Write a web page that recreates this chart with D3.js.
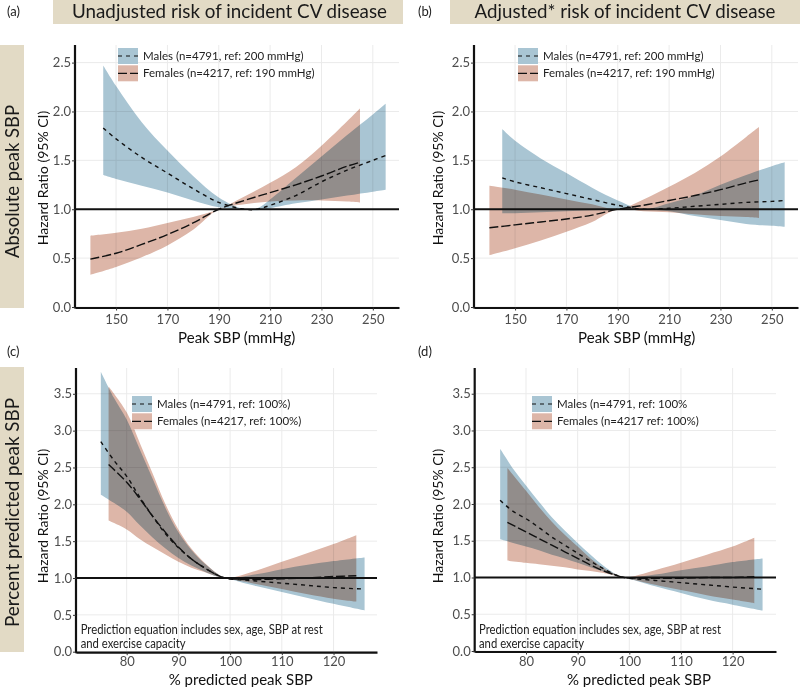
<!DOCTYPE html>
<html><head><meta charset="utf-8">
<script src="https://cdn.jsdelivr.net/npm/d3@7"></script>
<style>
body{margin:0;background:#fff;}
svg{display:block;font-family:Lato,"Open Sans",sans-serif;}
.band{mix-blend-mode:multiply;}
</style></head>
<body><svg id="chart" width="800" height="687"></svg>
<script>
// ---------- data ----------
const xTicksSBP = [150,170,190,210,230,250];
const xTicksPct = [80,90,100,110,120];
const yTicksTop = [0,0.5,1,1.5,2,2.5];
const yTicksBottom = [0,0.5,1,1.5,2,2.5,3,3.5];
const yTickLabelsTop = ["0.0","0.5","1.0","1.5","2.0","2.5"];
const yTickLabelsBottom = ["0.0","0.5","1.0","1.5","2.0","2.5","3.0","3.5"];

// rows: [x, HR, lower 95% CI, upper 95% CI]
const unadjMales = [[145,1.83,1.35,2.47],[150,1.72,1.31,2.26],[160,1.53,1.24,1.89],[170,1.37,1.17,1.60],[180,1.21,1.09,1.34],[190,1.07,1.02,1.12],[200,1.00,1.00,1.00],[205,1.00,0.99,1.01],[210,1.04,1.01,1.10],[220,1.14,1.06,1.32],[230,1.28,1.10,1.54],[240,1.40,1.14,1.76],[250,1.50,1.18,1.97],[255,1.55,1.20,2.08]];
const unadjFemales = [[140,0.49,0.33,0.73],[150,0.55,0.41,0.76],[160,0.64,0.51,0.80],[170,0.74,0.63,0.86],[180,0.86,0.79,0.92],[190,1.00,1.00,1.00],[200,1.09,1.05,1.13],[210,1.17,1.08,1.27],[220,1.25,1.09,1.43],[230,1.34,1.09,1.65],[240,1.44,1.08,1.90],[245,1.48,1.07,2.03]];
const adjMales = [[145,1.32,0.96,1.82],[150,1.28,0.96,1.70],[160,1.22,0.97,1.52],[170,1.16,0.98,1.37],[180,1.10,0.99,1.22],[190,1.04,1.00,1.09],[200,1.00,1.00,1.00],[210,1.01,0.98,1.06],[220,1.03,0.93,1.14],[230,1.05,0.89,1.25],[240,1.07,0.85,1.35],[250,1.08,0.83,1.44],[255,1.09,0.82,1.48]];
const adjFemales = [[140,0.81,0.53,1.24],[150,0.84,0.60,1.20],[160,0.87,0.68,1.15],[170,0.90,0.77,1.10],[180,0.94,0.87,1.05],[190,1.00,1.00,1.00],[200,1.04,0.98,1.10],[210,1.09,0.97,1.23],[220,1.14,0.95,1.37],[230,1.20,0.93,1.54],[240,1.27,0.92,1.74],[245,1.30,0.91,1.84]];
const pctUnadjMales = [[75,2.85,2.13,3.80],[77.5,2.60,2.02,3.45],[80,2.38,1.90,3.15],[82.5,2.10,1.72,2.75],[85,1.84,1.55,2.35],[87.5,1.60,1.40,1.95],[90,1.41,1.27,1.62],[92.5,1.26,1.17,1.38],[95,1.14,1.09,1.20],[97.5,1.04,1.02,1.06],[99,1.00,1.00,1.00],[105,0.96,0.89,1.05],[110,0.93,0.81,1.12],[115,0.90,0.73,1.18],[120,0.87,0.65,1.23],[126,0.85,0.56,1.28]];
const pctUnadjFemales = [[76.5,2.54,1.78,3.60],[80,2.30,1.66,3.25],[82.5,2.08,1.53,2.84],[85,1.84,1.42,2.42],[87.5,1.62,1.32,2.00],[90,1.42,1.22,1.66],[92.5,1.26,1.14,1.40],[95,1.14,1.08,1.21],[97.5,1.04,1.02,1.06],[99,1.00,1.00,1.00],[105,0.98,0.92,1.10],[110,0.99,0.85,1.22],[115,1.00,0.78,1.34],[120,1.02,0.72,1.46],[124.4,1.03,0.68,1.58]];
const pctAdjMales = [[75,2.05,1.52,2.75],[77.5,1.90,1.47,2.48],[80,1.80,1.42,2.25],[82.5,1.68,1.37,2.03],[85,1.55,1.31,1.82],[87.5,1.44,1.26,1.64],[90,1.33,1.20,1.47],[92.5,1.22,1.14,1.31],[95,1.12,1.08,1.16],[97.5,1.03,1.02,1.04],[99,1.00,1.00,1.00],[105,0.96,0.88,1.04],[110,0.93,0.79,1.10],[115,0.90,0.70,1.15],[120,0.87,0.63,1.21],[125.8,0.84,0.55,1.26]];
const pctAdjFemales = [[76.4,1.75,1.23,2.49],[80,1.62,1.20,2.18],[82.5,1.53,1.18,1.96],[85,1.44,1.16,1.76],[87.5,1.35,1.14,1.58],[90,1.26,1.11,1.42],[92.5,1.17,1.09,1.26],[95,1.09,1.06,1.13],[97.5,1.03,1.02,1.04],[99,1.00,1.00,1.00],[105,0.99,0.90,1.10],[110,0.99,0.83,1.20],[115,1.00,0.76,1.31],[120,1.00,0.70,1.42],[124.2,1.01,0.65,1.54]];

const legendA = ["Males (n=4791, ref: 200 mmHg)","Females (n=4217, ref: 190 mmHg)"];
const legendC = ["Males (n=4791, ref: 100%)","Females (n=4217, ref: 100%)"];
const legendD = ["Males (n=4791, ref: 100%","Females (n=4217    ref: 100%)"];
const noteLines = ["Prediction equation includes sex, age, SBP at rest","and exercise capacity"];
const colTitles = ["Unadjusted risk of incident CV disease","Adjusted* risk of incident CV disease"];
const rowTitles = ["Absolute peak SBP","Percent predicted peak SBP"];
const panelLetters = ["(a)","(b)","(c)","(d)"];
const xTitles = ["Peak SBP (mmHg)","% predicted peak SBP"];
const yTitle = "Hazard Ratio (95% CI)";

// ---------- style / layout ----------
const BLUE = "#a9c5d3", PINK = "#ddb6a8", BEIGE = "#e2dac5";
const svg = d3.select("#chart");

[[53,403,229.5,315,colTitles[0]],[450,800,625,301,colTitles[1]]].forEach(([x0,x1,cx,tl,t])=>{
  svg.append("rect").attr("x",x0).attr("y",0).attr("width",x1-x0).attr("height",24).attr("fill",BEIGE);
  svg.append("text").attr("x",cx).attr("y",18.3).attr("text-anchor","middle")
    .attr("font-size",19).attr("fill","#1a1a1a").attr("textLength",tl).attr("lengthAdjust","spacingAndGlyphs").text(t);
});
[[45,308,181.5,153,rowTitles[0]],[367,652,512.5,229,rowTitles[1]]].forEach(([y0,y1,cy,tl,t])=>{
  svg.append("rect").attr("x",0).attr("y",y0).attr("width",24).attr("height",y1-y0).attr("fill",BEIGE);
  svg.append("text").attr("transform",`translate(18.5,${cy}) rotate(-90)`).attr("text-anchor","middle")
    .attr("font-size",19).attr("fill","#1a1a1a").attr("textLength",tl).attr("lengthAdjust","spacingAndGlyphs").text(t);
});
[[7,16],[418,16],[7,356],[418,356]].forEach(([x,y],i)=>{
  svg.append("text").attr("x",x).attr("y",y).attr("font-size",13).attr("fill","#222").text(panelLetters[i]);
});

const panels = [
  {l:75, r:399, t:45, b:307, xd:[134,260.2], yd:[0,2.68], xt:xTicksSBP, yt:yTicksTop, yl:yTickLabelsTop, tlOff:12.3,
   m:unadjMales, f:unadjFemales, leg:legendA, legX:118, legY:48, xTitle:xTitles[0], xtY:338, xtX:236.7, ytX:43.3, ytY:178, note:false},
  {l:474, r:798, t:45, b:307, xd:[134,260.2], yd:[0,2.68], xt:xTicksSBP, yt:yTicksTop, yl:yTickLabelsTop, tlOff:12.3,
   m:adjMales, f:adjFemales, leg:legendA, legX:518, legY:48, xTitle:xTitles[0], xtY:338, xtX:636.7, ytX:438.3, ytY:178, note:false},
  {l:76, r:377, t:368, b:651.7, xd:[70.2,128.4], yd:[0,3.85], xt:xTicksPct, yt:yTicksBottom, yl:yTickLabelsBottom, tlOff:9.5,
   m:pctUnadjMales, f:pctUnadjFemales, leg:legendC, legX:132, legY:396, xTitle:xTitles[1], xtY:679.5, xtX:240.8, ytX:43.3, ytY:516, note:true, noteX:80.7},
  {l:474.7, r:776, t:368, b:651, xd:[70.07,128.4], yd:[0,3.85], xt:xTicksPct, yt:yTicksBottom, yl:yTickLabelsBottom, tlOff:10,
   m:pctAdjMales, f:pctAdjFemales, leg:legendD, legX:532, legY:396, xTitle:xTitles[1], xtY:679.5, xtX:639, ytX:438.3, ytY:516, note:true, noteX:479}
];

panels.forEach(p=>{
  const x = d3.scaleLinear().domain(p.xd).range([p.l,p.r]);
  const y = d3.scaleLinear().domain(p.yd).range([p.b,p.t]);
  const g = svg.append("g");
  g.selectAll(".vg").data(p.xt).join("line").attr("x1",d=>x(d)).attr("x2",d=>x(d)).attr("y1",p.t).attr("y2",p.b)
    .attr("stroke","#ebebeb").attr("stroke-width",1);
  g.selectAll(".hg").data(p.yt).join("line").attr("x1",p.l).attr("x2",p.r).attr("y1",d=>y(d)).attr("y2",d=>y(d))
    .attr("stroke","#ebebeb").attr("stroke-width",1);
  const crv = d3.curveCatmullRom.alpha(0.5);
  const area = d3.area().x(d=>x(d[0])).y0(d=>y(d[2])).y1(d=>y(d[3])).curve(crv);
  g.append("path").datum(p.m).attr("class","band").attr("d",area).attr("fill",BLUE);
  g.append("path").datum(p.f).attr("class","band").attr("d",area).attr("fill",PINK);
  g.append("line").attr("x1",p.l).attr("x2",p.r).attr("y1",y(1)).attr("y2",y(1)).attr("stroke","#111").attr("stroke-width",1.8);
  const line = d3.line().x(d=>x(d[0])).y(d=>y(d[1])).curve(crv);
  g.append("path").datum(p.m).attr("d",line).attr("fill","none").attr("stroke","#111").attr("stroke-width",1.4).attr("stroke-dasharray","4,4");
  g.append("path").datum(p.f).attr("d",line).attr("fill","none").attr("stroke","#111").attr("stroke-width",1.4).attr("stroke-dasharray","9,3");
  const xa = g.append("g").attr("transform",`translate(0,${p.b+0.5})`)
    .call(d3.axisBottom(x).tickValues(p.xt).tickSize(3).tickSizeOuter(0).tickFormat(d3.format("d")));
  xa.select(".domain").attr("stroke","#111").attr("stroke-width",2.2);
  xa.selectAll(".tick line").attr("stroke","#333");
  xa.selectAll(".tick text").attr("font-size",13).attr("fill","#4d4d4d").attr("font-family","Lato")
    .attr("y",p.tlOff).attr("dy","0.35em");
  const ya = g.append("g").attr("transform",`translate(${p.l},0)`)
    .call(d3.axisLeft(y).tickValues(p.yt).tickSize(3).tickSizeOuter(0).tickFormat((d,i)=>p.yl[i]));
  ya.select(".domain").attr("stroke","#111").attr("stroke-width",2.2).attr("d",`M0,${p.t}V${p.b+1.6}`);
  ya.selectAll(".tick line").attr("stroke","#333");
  ya.selectAll(".tick text").attr("font-size",13).attr("fill","#4d4d4d").attr("font-family","Lato").attr("x",-4);
  g.append("text").attr("x",p.xtX).attr("y",p.xtY).attr("dy","0.35em").attr("text-anchor","middle").attr("font-size",15).attr("fill","#111").text(p.xTitle);
  g.append("text").attr("transform",`translate(${p.ytX},${p.ytY}) rotate(-90)`).attr("dy","0.35em").attr("text-anchor","middle").attr("font-size",14).attr("fill","#111").text(yTitle);
  [[BLUE,"4,4"],[PINK,"9,3"]].forEach(([c,dash],i)=>{
    const yy = p.legY + i*17.3;
    g.append("rect").attr("x",p.legX).attr("y",yy).attr("width",20).attr("height",16).attr("fill",c);
    g.append("line").attr("x1",p.legX).attr("x2",p.legX+20).attr("y1",yy+8).attr("y2",yy+8).attr("stroke","#111").attr("stroke-width",1.2).attr("stroke-dasharray",dash);
    g.append("text").attr("x",p.legX+25).attr("y",yy+8).attr("dy","0.35em").attr("font-size",11.5).attr("fill","#222").text(p.leg[i]);
  });
  if(p.note){
    [[noteLines[0],242],[noteLines[1],105]].forEach(([t,tl],i)=>{
      g.append("text").attr("x",p.noteX).attr("y",630+i*14).attr("dy","0.35em").attr("font-size",12.5).attr("fill","#222")
        .attr("textLength",tl).attr("lengthAdjust","spacingAndGlyphs").text(t);
    });
  }
});
</script></body></html>
